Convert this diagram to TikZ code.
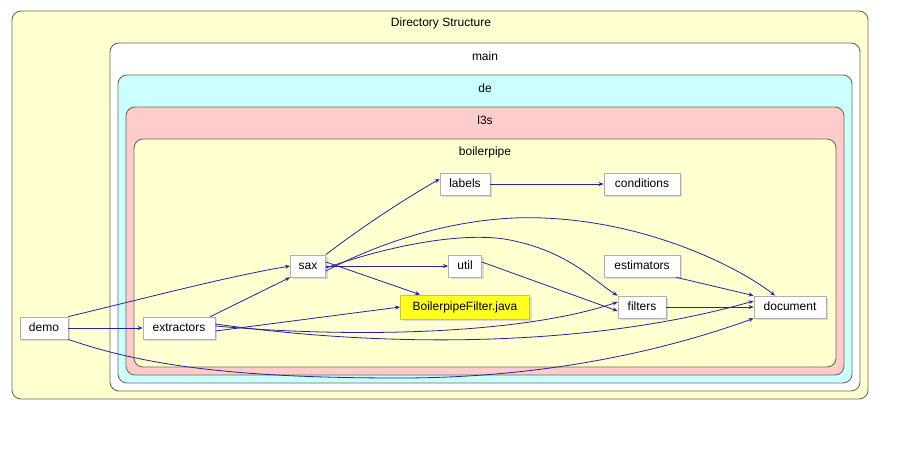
\documentclass[tikz,border=0pt]{standalone}
\usepackage{fontspec}
\setmainfont{Liberation Sans}
\usetikzlibrary{arrows.meta}
\definecolor{clyellow}{HTML}{FFFFCF}
\definecolor{clcyan}{HTML}{CCFFFF}
\definecolor{clpink}{HTML}{FFCCCC}
\definecolor{clborder}{HTML}{6E6E50}
\definecolor{edgecol}{HTML}{2424A0}
\definecolor{nodeborder}{HTML}{B0B0B0}
\definecolor{hiyellow}{HTML}{FFFF22}
\begin{document}
\begin{tikzpicture}[x=1pt,y=-1pt,
  cluster/.style={draw=clborder,line width=0.9pt,rounded corners=9pt},
  ctitle/.style={font=\fontsize{12}{14}\selectfont,inner sep=0pt},
  dirnode/.style={draw=nodeborder,fill=white,line width=0.8pt,minimum height=22pt,inner xsep=4pt,inner ysep=0pt,
     font=\fontsize{12}{14}\selectfont,text height=9pt,text depth=2.5pt},
  edge/.style={draw=edgecol,line width=0.8pt,-{Stealth[length=5pt,width=4pt]}}]
\useasboundingbox (0,0) rectangle (918,450);
% clusters
\draw[cluster,fill=clyellow] (12,11) rectangle (868,399);
\node[ctitle] (tDS) at (441,23) {Directory Structure};
\draw[cluster,fill=white] (110,43) rectangle (860,391);
\node[ctitle] (tmain) at (485,56) {main};
\draw[cluster,fill=clcyan] (118,75) rectangle (852,383);
\node[ctitle] (tde) at (485,88) {de};
\draw[cluster,fill=clpink] (126,107) rectangle (844,375);
\node[ctitle] (tl3s) at (485,120) {l3s};
\draw[cluster,fill=clyellow] (134,139) rectangle (836,367);
\node[ctitle] (tbp) at (485,152) {boilerpipe};
% shadows
\foreach \cx/\cy/\w in {44/328/48,179/328/72,308/266/35,465/184/50,642/184/76,465/266/33,642/266/76,642/307/48,790/307/72}{
  \fill[gray!30] (\cx-\w/2+2,\cy-11+2) rectangle (\cx+\w/2+2,\cy+11+2);
}
\fill[gray!30] (403,297) rectangle (532,321);
% nodes
\node[dirnode,minimum width=48pt] (demo) at (44,328) {demo};
\node[dirnode,minimum width=72pt] (extractors) at (179,328) {extractors};
\node[dirnode,minimum width=35pt] (sax) at (308,266) {sax};
\node[dirnode,minimum width=50pt] (labels) at (465,184) {labels};
\node[dirnode,minimum width=76pt] (conditions) at (642,184) {conditions};
\node[dirnode,minimum width=33pt] (util) at (465,266) {util};
\node[dirnode,minimum width=76pt] (estimators) at (642,266) {estimators};
\node[dirnode,minimum width=129pt,minimum height=24pt,fill=hiyellow,draw=hiyellow!80!black] (bpf) at (465,307) {BoilerpipeFilter.java};
\node[dirnode,minimum width=48pt] (filters) at (642,307) {filters};
\node[dirnode,minimum width=72pt] (document) at (790,307) {document};
% edges
\draw[edge] (demo.north east) .. controls (150,297) and (230,276) .. (sax.west);
\draw[edge] (demo.east) -- (extractors.west);
\draw[edge] (demo.south east) .. controls (150,368) and (250,378) .. (400,378) .. controls (560,378) and (680,345) .. (document.south west);
\draw[edge] (extractors.north east) ++(-5,0) -- (sax.south west);
\draw[edge] ([yshift=-3pt]extractors.east) -- (bpf.west);
\draw[edge] ([yshift=2pt]extractors.east) .. controls (350,338) and (520,335) .. ([yshift=5pt]filters.west);
\draw[edge] ([yshift=4pt]extractors.east) .. controls (400,350) and (600,345) .. ([yshift=6pt]document.west);
\draw[edge] (sax.north east) .. controls (358,230) and (398,203) .. ([yshift=5pt]labels.west);
\draw[edge] ([yshift=-5pt]sax.east) .. controls (400,232) and (480,215) .. (543,218) .. controls (650,222) and (740,268) .. ([xshift=-15pt]document.north);
\draw[edge] ([yshift=-2pt]sax.east) .. controls (400,242) and (470,232) .. (510,240) .. controls (570,252) and (595,282) .. (filters.north west);
\draw[edge] (sax.east) -- (util.west);
\draw[edge] ([yshift=4pt]sax.east) -- ([xshift=20pt]bpf.north west);
\draw[edge] (labels.east) -- (conditions.west);
\draw[edge] ([yshift=4pt]util.east) -- ([yshift=-4pt]filters.west);
\draw[edge] ([xshift=-4pt]estimators.south east) -- (document.north west);
\draw[edge] (filters.east) -- (document.west);
\end{tikzpicture}
\end{document}
